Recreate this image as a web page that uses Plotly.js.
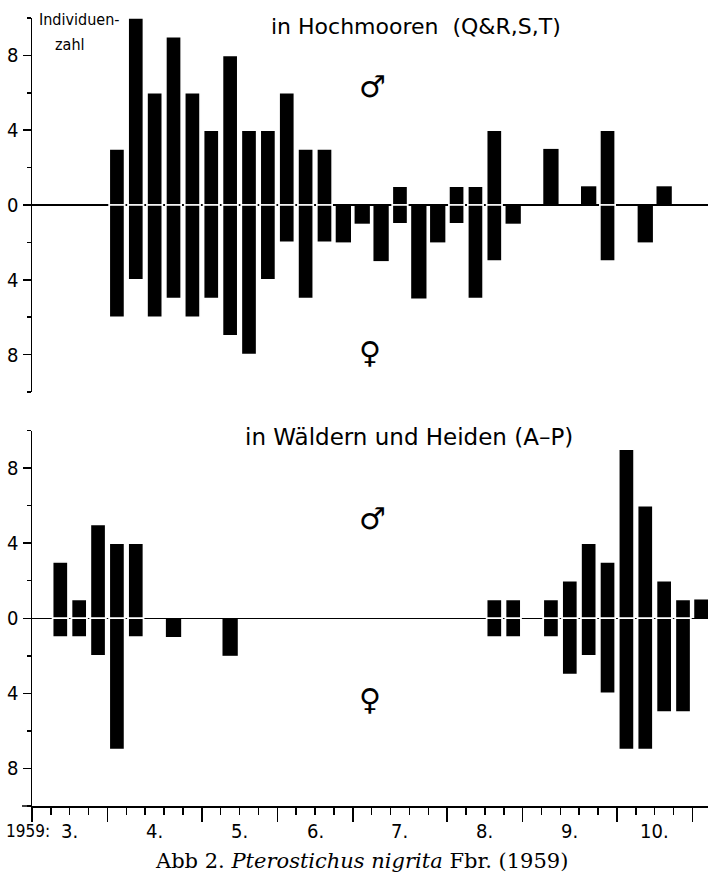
<!DOCTYPE html>
<html>
<head>
<meta charset="utf-8">
<script src="https://cdn.plot.ly/plotly-3.0.1.min.js"></script>
<style>
  html, body { margin: 0; padding: 0; background: #fff; }
  #chart { width: 708px; height: 876px; }
</style>
</head>
<body>
<div id="chart"></div>
<script>
// ---- DATA (weekly counts, 1959) ----
const monthLabels = ['3.', '4.', '5.', '6.', '7.', '8.', '9.', '10.'];
const weeksPerMonth = [4, 5, 4, 4, 5, 4, 5, 4];
const weeks = Array.from({length: 36}, (_, i) => i + 1);

// in Hochmooren (Q&R,S,T)
const moorMales   = [0,0,0,0, 3,10,6,9,6, 4,8,4,4, 6,3,3,0, 0,0,1,0,0, 1,1,4,0, 0,3,0,1,4, 0,0,1,0, 0];
const moorFemales = [0,0,0,0, 6,4,6,5,6, 5,7,8,4, 2,5,2,2, 1,3,1,5,2, 1,5,3,1, 0,0,0,0,3, 0,2,0,0, 0];

// in Wäldern und Heiden (A-P)
const forestMales   = [0,3,1,5, 4,4,0,0,0, 0,0,0,0, 0,0,0,0, 0,0,0,0,0, 0,0,1,1, 0,1,2,4,3, 9,6,2,1, 1];
const forestFemales = [0,1,1,2, 7,1,0,1,0, 0,2,0,0, 0,0,0,0, 0,0,0,0,0, 0,0,1,1, 0,1,3,2,4, 7,7,5,5, 0];

const yTickVals = [-8, -4, 0, 4, 8];
const yTickText = ['8', '4', '0', '4', '8'];
const yMinorVals = [-10, -6, -2, 2, 6, 10];

// ---- derived ----
const monthStarts = [];
let acc = 0.5;
weeksPerMonth.forEach(n => { monthStarts.push(acc); acc += n; });
const monthBounds = monthStarts.concat([acc]);
const monthCenters = weeksPerMonth.map((n, i) => monthStarts[i] + n / 2);
const weekBounds = Array.from({length: 36}, (_, i) => i + 0.5);

// ---- pixel helpers for text placement ----
const W = 708, H = 876;
const M = {l: 32, r: 0, t: 18, b: 70};
const PW = W - M.l - M.r, PH = H - M.t - M.b;
const px = x => (x - M.l) / PW;
const py = y => (H - M.b - y) / PH;
const binPx = 18.87;
const xRange = [0.5, 0.5 + PW / binPx];

function gapWidths(a, b) { return a.map((v, i) => (v > 0 && b[i] > 0) ? 1.6 : 0); }

function barTraces(males, females, xa, ya) {
  return [
    { type: 'bar', x: weeks, y: males, xaxis: xa, yaxis: ya,
      marker: { color: '#000', line: { color: '#fff', width: gapWidths(males, females) } },
      hoverinfo: 'skip', showlegend: false },
    { type: 'bar', x: weeks, y: females.map(v => -v), xaxis: xa, yaxis: ya,
      marker: { color: '#000', line: { color: '#fff', width: gapWidths(females, males) } },
      hoverinfo: 'skip', showlegend: false }
  ];
}

const data = [].concat(
  barTraces(moorMales, moorFemales, 'x', 'y'),
  barTraces(forestMales, forestFemales, 'x2', 'y2')
);

const labelFont = { family: 'DejaVu Sans Condensed, Liberation Sans Narrow, DejaVu Sans, sans-serif', size: 20, color: '#000' };

function yAxis(domain) {
  return {
    domain: domain, range: [-10, 10], fixedrange: true,
    tickmode: 'array', tickvals: yTickVals, ticktext: yTickText,
    ticks: 'outside', ticklen: 8, tickwidth: 1.5, tickcolor: '#000',
    tickfont: labelFont,
    showline: true, linecolor: '#000', linewidth: 1.5,
    showgrid: false,
    zeroline: true, zerolinecolor: '#000', zerolinewidth: 1.5,
    minor: { tickmode: 'array', tickvals: yMinorVals, ticks: 'outside', ticklen: 4, tickwidth: 1.5, tickcolor: '#000', showgrid: false }
  };
}

const symFont = { family: 'DejaVu Sans, sans-serif', size: 30, color: '#000' };

const annotations = [
  { text: 'in Hochmooren  (Q&amp;R,S,T)', x: px(416), y: py(26), font: { family: 'DejaVu Sans, sans-serif', size: 22, color: '#000' } },
  { text: 'Individuen-', x: px(79), y: py(20), font: { family: labelFont.family, size: 16, color: '#000' } },
  { text: 'zahl', x: px(70), y: py(44), font: { family: labelFont.family, size: 16, color: '#000' } },
  { text: '♂', x: px(372), y: py(86), font: symFont },
  { text: '♀', x: px(370), y: py(352), font: symFont },
  { text: 'in Wäldern und Heiden (A–P)', x: px(409), y: py(437), font: { family: 'DejaVu Sans, sans-serif', size: 23, color: '#000' } },
  { text: '♂', x: px(372), y: py(518), font: symFont },
  { text: '♀', x: px(370), y: py(699), font: symFont },
  { text: '1959:', x: px(28), y: py(831), font: { family: labelFont.family, size: 17, color: '#000' } },
  { text: 'Abb 2. <i>Pterostichus nigrita</i> Fbr. (1959)', x: px(361), y: py(861),
    font: { family: 'DejaVu Serif, Liberation Serif, serif', size: 21, color: '#000' } }
].map(a => Object.assign({ xref: 'paper', yref: 'paper', showarrow: false, xanchor: 'center', yanchor: 'middle' }, a));

monthLabels.forEach((lab, i) => {
  annotations.push({ text: lab, x: monthCenters[i], xref: 'x2', y: py(831), yref: 'paper',
    showarrow: false, xanchor: 'center', yanchor: 'middle',
    font: { family: labelFont.family, size: 20, color: '#000' } });
});

const layout = {
  width: W, height: H,
  margin: M,
  paper_bgcolor: '#fff', plot_bgcolor: '#fff',
  barmode: 'relative', bargap: 0.19,
  showlegend: false,
  xaxis: { domain: [0, 1], anchor: 'y', range: xRange, showline: false, ticks: '', showticklabels: false, showgrid: false, zeroline: false, fixedrange: true },
  yaxis: yAxis([py(392), 1]),
  xaxis2: { domain: [0, 1], anchor: 'y2', range: xRange, fixedrange: true,
    showline: true, linecolor: '#000', linewidth: 1.5,
    tickmode: 'array', tickvals: monthBounds, ticks: 'outside', ticklen: 14, tickwidth: 1.5, tickcolor: '#000',
    showticklabels: false, showgrid: false, zeroline: false,
    minor: { tickmode: 'array', tickvals: weekBounds, ticks: 'outside', ticklen: 7, tickwidth: 1.5, tickcolor: '#000', showgrid: false } },
  yaxis2: yAxis([0, py(430.5)]),
  shapes: [
    { type: 'line', xref: 'paper', yref: 'paper', x0: px(22), x1: 0, y0: 0, y1: 0, line: { color: '#000', width: 1.5 } }
  ],
  annotations: annotations
};

Plotly.newPlot('chart', data, layout, { displayModeBar: false, staticPlot: true });
</script>
</body>
</html>
